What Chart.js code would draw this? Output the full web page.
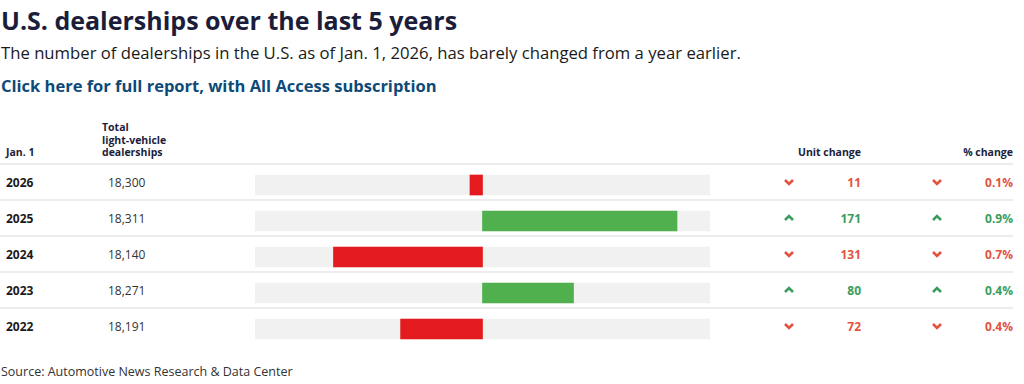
<!DOCTYPE html>
<html>
<head>
<meta charset="utf-8">
<script src="https://cdn.jsdelivr.net/npm/chart.js@4/dist/chart.umd.min.js"></script>
<style>
  html, body { margin: 0; padding: 0; background: #fff; }
  body { width: 1024px; height: 384px; position: relative; overflow: hidden; font-family: "Open Sans", "Noto Sans", sans-serif; }
  .abs { position: absolute; white-space: nowrap; }
  #title { left: 1px; top: 8px; font-size: 25px; line-height: 25px; font-weight: 700; color: #1b1d3a; }
  #sub { left: 1px; top: 43.5px; font-size: 16.7px; line-height: 17px; color: #1a1a1a; }
  #link { left: 1px; top: 77px; font-size: 16.5px; line-height: 17px; font-weight: 700; color: #0d4a78; }
  .hdr { font-size: 10.5px; font-weight: 700; color: #1b1d3a; line-height: 12.5px; }
  .sep { position: absolute; left: 0; width: 1013px; height: 2px; background: #ececee; }
  .yr { font-size: 12px; font-weight: 700; color: #1a1a1a; line-height: 12px; }
  .tot { font-size: 12px; color: #333; line-height: 12px; }
  .val { font-size: 12px; font-weight: 700; line-height: 12px; text-align: right; }
  #src { left: 1px; top: 365px; font-size: 12.5px; line-height: 13px; color: #333; }
  #chartBox { position: absolute; left: 255px; top: 167px; width: 455px; height: 180px; }
</style>
</head>
<body>
<div id="title" class="abs">U.S. dealerships over the last 5 years</div>
<div id="sub" class="abs">The number of dealerships in the U.S. as of Jan. 1, 2026, has barely changed from a year earlier.</div>
<div id="link" class="abs">Click here for full report, with All Access subscription</div>

<div class="abs hdr" style="left:6px; top:146px;">Jan. 1</div>
<div class="abs hdr" style="left:102px; top:121px;">Total<br>light-vehicle<br>dealerships</div>
<div class="abs hdr" style="right:163px; top:146px;">Unit change</div>
<div class="abs hdr" style="right:11px; top:146px;">% change</div>

<div id="rows"></div>
<div id="chartBox"><canvas id="c"></canvas></div>
<div id="src" class="abs">Source: Automotive News Research &amp; Data Center</div>

<script>
const years = ["2026", "2025", "2024", "2023", "2022"];
const totals = ["18,300", "18,311", "18,140", "18,271", "18,191"];
const unitChange = [-11, 171, -131, 80, -72];
const pctChange = [-0.1, 0.9, -0.7, 0.4, -0.4];
const axisRange = [-200, 200];

const RED_TXT = "#e5523e", GREEN_TXT = "#3a9d5d";
const RED_BAR = "#e41b1e", GREEN_BAR = "#50b04e", GREY = "#f0f1f0";

const rows = document.getElementById("rows");
const rowTop = 164, rowH = 36;
function chevron(x, y, up, color) {
  const pts = up ? "1,6 5,2 9,6" : "1,2 5,6 9,2";
  return `<svg class="abs" style="left:${x}px;top:${y}px" width="10" height="8"><polyline points="${pts}" fill="none" stroke="${color}" stroke-width="2.6"/></svg>`;
}
let html = "";
years.forEach((y, i) => {
  const top = rowTop + i * rowH;
  html += `<div class="sep" style="top:${top - 1}px"></div>`;
  const base = top + 13;
  const up = unitChange[i] > 0;
  const col = up ? GREEN_TXT : RED_TXT;
  html += `<div class="abs yr" style="left:6px;top:${base}px">${y}</div>`;
  html += `<div class="abs tot" style="left:108px;top:${base}px">${totals[i]}</div>`;
  html += chevron(784, base + 1, up, col);
  html += `<div class="abs val" style="right:163px;top:${base}px;color:${col}">${Math.abs(unitChange[i])}</div>`;
  html += chevron(932, base + 1, up, col);
  html += `<div class="abs val" style="right:11px;top:${base}px;color:${col}">${Math.abs(pctChange[i]).toFixed(1)}%</div>`;
});
rows.innerHTML = html;

new Chart(document.getElementById("c"), {
  type: "bar",
  data: {
    labels: years,
    datasets: [
      {
        data: unitChange.map(v => [0, v]),
        backgroundColor: unitChange.map(v => v > 0 ? GREEN_BAR : RED_BAR),
        barThickness: 20,
        grouped: false,
        order: 0
      },
      {
        data: years.map(() => axisRange),
        backgroundColor: GREY,
        barThickness: 20,
        grouped: false,
        order: 1
      }
    ]
  },
  options: {
    indexAxis: "y",
    responsive: true,
    maintainAspectRatio: false,
    animation: false,
    layout: { padding: 0 },
    plugins: { legend: { display: false }, tooltip: { enabled: false } },
    scales: {
      x: { min: axisRange[0], max: axisRange[1], display: false },
      y: { display: false }
    }
  }
});
</script>
</body>
</html>
